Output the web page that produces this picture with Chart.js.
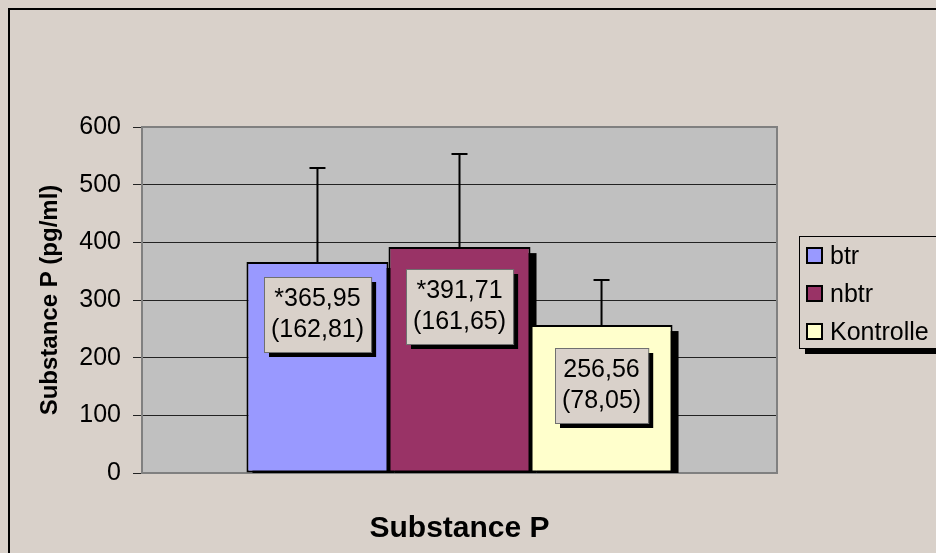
<!DOCTYPE html>
<html>
<head>
<meta charset="utf-8">
<script src="https://cdn.jsdelivr.net/npm/chart.js@4.4.0/dist/chart.umd.min.js"></script>
<style>
  html, body { margin: 0; padding: 0; background: #d9d1ca; }
  canvas { display: block; }
</style>
</head>
<body>
<canvas id="myChart" width="936" height="553"></canvas>
<script>
const categories = ['Substance P'];
const groups = ['btr', 'nbtr', 'Kontrolle'];
const means = [365.95, 391.71, 256.56];
const sds = [162.81, 161.65, 78.05];
const marks = ['*', '*', ''];
const yTicks = [0, 100, 200, 300, 400, 500, 600];
const colors = ['#9999ff', '#993366', '#ffffcc'];

const bg = '#d9d1ca';
const labelDrop = [15, 22, 23]; // px from bar top to label box
const fmt = v => v.toFixed(2).replace('.', ',');
const font = 'Arial, "Liberation Sans", sans-serif';

// background, outer frame and grey plot area
const frame = {
    id: 'frame',
    beforeDraw(chart) {
        const ctx = chart.ctx;
        const a = chart.chartArea;
        ctx.save();
        ctx.fillStyle = bg;
        ctx.fillRect(0, 0, chart.width, chart.height);
        ctx.strokeStyle = '#000';
        ctx.lineWidth = 2;
        ctx.strokeRect(9, 9, chart.width + 20, chart.height + 20);
        ctx.fillStyle = '#c0c0c0';
        ctx.fillRect(a.left, a.top, a.right - a.left, a.bottom - a.top);
        ctx.restore();
    },
    beforeDatasetsDraw(chart) {
        const ctx = chart.ctx;
        const a = chart.chartArea;
        ctx.save();
        ctx.strokeStyle = '#808080';
        ctx.lineWidth = 2;
        ctx.strokeRect(a.left, a.top, a.right - a.left, a.bottom - a.top);
        // bar shadows
        ctx.beginPath();
        ctx.rect(a.left, a.top, a.right - a.left, a.bottom - a.top);
        ctx.clip();
        ctx.fillStyle = '#000';
        chart.data.datasets.forEach((ds, i) => {
            const b = chart.getDatasetMeta(i).data[0].getProps(['x', 'y', 'base', 'width'], true);
            ctx.fillRect(b.x - b.width / 2 + 6, b.y + 6, b.width, b.base - b.y);
        });
        ctx.restore();
    },
    afterDatasetsDraw(chart) {
        const ctx = chart.ctx;
        const y = chart.scales.y;
        ctx.save();
        chart.data.datasets.forEach((ds, i) => {
            const b = chart.getDatasetMeta(i).data[0].getProps(['x', 'y', 'base', 'width'], true);
            // error bar (plus only)
            const top = y.getPixelForValue(means[i] + sds[i]);
            ctx.strokeStyle = '#000';
            ctx.lineWidth = 2;
            ctx.beginPath();
            ctx.moveTo(b.x, b.y);
            ctx.lineTo(b.x, top);
            ctx.moveTo(b.x - 8, top);
            ctx.lineTo(b.x + 8, top);
            ctx.stroke();
            // value label
            const l1 = marks[i] + fmt(means[i]);
            const l2 = '(' + fmt(sds[i]) + ')';
            ctx.font = '25px ' + font;
            const w = Math.max(ctx.measureText(l1).width, ctx.measureText(l2).width) + 14;
            const h = 75;
            const bx = Math.round(b.x - w / 2);
            const by = Math.round(b.y + labelDrop[i]);
            ctx.fillStyle = '#000';
            ctx.fillRect(bx + 5, by + 5, w, h);
            ctx.fillStyle = bg;
            ctx.fillRect(bx, by, w, h);
            ctx.strokeStyle = '#707070';
            ctx.lineWidth = 1;
            ctx.strokeRect(bx + 0.5, by + 0.5, w, h);
            ctx.fillStyle = '#000';
            ctx.textAlign = 'center';
            ctx.textBaseline = 'middle';
            ctx.fillText(l1, b.x, by + h / 2 - 15);
            ctx.fillText(l2, b.x, by + h / 2 + 16);
        });
        ctx.restore();
    },
    afterDraw(chart) {
        const ctx = chart.ctx;
        const lx = 799, ly = 236, lh = 112;
        ctx.save();
        ctx.fillStyle = '#000';
        ctx.fillRect(lx + 6, ly + 6, chart.width, lh);
        ctx.fillStyle = bg;
        ctx.fillRect(lx, ly, chart.width, lh);
        ctx.strokeStyle = '#000';
        ctx.lineWidth = 1;
        ctx.strokeRect(lx + 0.5, ly + 0.5, chart.width, lh);
        ctx.font = '25px ' + font;
        ctx.textBaseline = 'middle';
        ctx.textAlign = 'left';
        chart.data.datasets.forEach((ds, i) => {
            const cy = ly + 20 + i * 38;
            ctx.fillStyle = ds.backgroundColor;
            ctx.fillRect(lx + 8, cy - 8, 15, 15);
            ctx.strokeStyle = '#000';
            ctx.lineWidth = 2;
            ctx.strokeRect(lx + 8, cy - 8, 15, 15);
            ctx.fillStyle = '#000';
            ctx.fillText(ds.label, lx + 31, cy + 1);
        });
        ctx.restore();
    }
};

const ctx = document.getElementById('myChart').getContext('2d');
const chart = new Chart(ctx, {
    type: 'bar',
    data: {
        labels: categories,
        datasets: groups.map((g, i) => ({
            label: g,
            data: [means[i]],
            backgroundColor: colors[i],
            borderColor: '#000',
            borderWidth: 2,
            borderSkipped: false,
            categoryPercentage: 0.671,
            barPercentage: 1.0
        }))
    },
    options: {
        responsive: false,
        animation: false,
        devicePixelRatio: 1,
        layout: { padding: { left: 0, top: 127, right: 159, bottom: 0 } },
        plugins: {
            legend: { display: false },
            tooltip: { enabled: false }
        },
        scales: {
            x: {
                grid: { display: false },
                border: { display: false },
                ticks: { display: false },
                title: {
                    display: true,
                    text: 'Substance P',
                    color: '#000',
                    font: { family: font, size: 30, weight: 'bold' },
                    padding: { top: 0, bottom: 6 }
                },
                afterFit(scale) { scale.height = 80; }
            },
            y: {
                min: 0,
                max: 600,
                afterBuildTicks(scale) { scale.ticks = yTicks.map(v => ({ value: v })); },
                grid: { color: '#222', lineWidth: 1, tickLength: 9, tickColor: '#222' },
                border: { display: true, color: '#808080', width: 2 },
                ticks: {
                    color: '#000',
                    padding: 12,
                    font: { family: font, size: 25 }
                },
                title: {
                    display: true,
                    text: 'Substance P (pg/ml)',
                    color: '#000',
                    font: { family: font, size: 24, weight: 'bold' },
                    padding: { top: 36, bottom: 0 }
                },
                afterFit(scale) { scale.width = 142; }
            }
        }
    },
    plugins: [frame]
});
</script>
</body>
</html>
